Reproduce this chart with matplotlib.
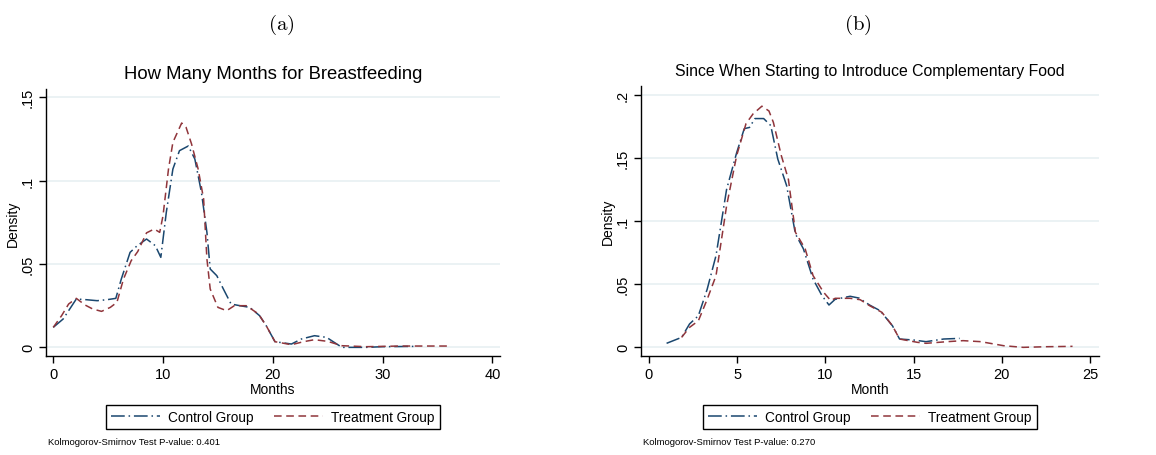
import numpy as np
import matplotlib.pyplot as plt

# kernel density estimates, panel (a): months of breastfeeding
bf_ctrl_x = [0.0, 0.9, 2.1, 3.0, 4.0, 4.9, 5.7, 6.2, 7.0, 7.6, 8.5, 9.3, 9.8, 10.3, 10.9, 11.5,
             12.3, 12.9, 13.5, 14.0, 14.3, 14.9, 15.5, 16.2, 17.0, 17.9, 18.8, 19.4, 20.2, 21.7,
             22.6, 23.8, 24.9, 26.3, 28.5, 30.0, 33.0]
bf_ctrl_y = [0.012, 0.017, 0.029, 0.0286, 0.028, 0.0286, 0.0294, 0.041, 0.057, 0.0607, 0.065, 0.061,
             0.054, 0.081, 0.107, 0.118, 0.1208, 0.113, 0.093, 0.069, 0.047, 0.043, 0.035, 0.026,
             0.025, 0.024, 0.019, 0.013, 0.0034, 0.002, 0.005, 0.007, 0.006, 0.0, 0.0, 0.0004, 0.0006]
bf_trt_x = [0.0, 0.76, 1.4, 2.1, 2.9, 3.6, 4.4, 5.2, 5.8, 6.4, 7.1, 7.7, 8.5, 9.2, 9.7, 10.0, 10.5,
            10.9, 11.7, 12.1, 12.6, 13.2, 13.7, 14.0, 14.3, 15.0, 15.8, 16.5, 17.6, 18.7, 19.4, 20.2,
            21.7, 22.8, 23.8, 25.0, 26.3, 28.5, 31.6, 36.0]
bf_trt_y = [0.012, 0.019, 0.026, 0.0294, 0.0254, 0.023, 0.0216, 0.024, 0.027, 0.041, 0.052, 0.0575,
            0.0687, 0.071, 0.069, 0.079, 0.107, 0.123, 0.1346, 0.132, 0.122, 0.107, 0.089, 0.053,
            0.035, 0.024, 0.022, 0.025, 0.025, 0.020, 0.013, 0.0034, 0.0016, 0.0034, 0.0046, 0.0036,
            0.001, 0.0004, 0.0008, 0.0008]

# panel (b): month complementary food was introduced
cf_ctrl_x = [1.0, 1.85, 2.3, 2.8, 3.3, 3.8, 4.4, 4.97, 5.4, 5.7, 6.0, 6.5, 6.9, 7.3, 7.8, 8.3, 8.75,
             9.3, 9.8, 10.2, 10.55, 11.4, 11.9, 12.5, 13.1, 13.8, 14.2, 15.0, 15.7, 16.7, 17.6]
cf_ctrl_y = [0.0032, 0.0079, 0.0185, 0.025, 0.046, 0.0726, 0.125, 0.154, 0.173, 0.174, 0.181, 0.181,
             0.1755, 0.149, 0.128, 0.0897, 0.078, 0.054, 0.041, 0.0335, 0.038, 0.0404, 0.039, 0.0335,
             0.029, 0.017, 0.0066, 0.0058, 0.0045, 0.0066, 0.0071]
cf_trt_x = [1.85, 2.3, 2.8, 3.3, 3.8, 4.4, 4.97, 5.5, 5.9, 6.4, 6.8, 7.05, 7.5, 7.9, 8.3, 8.85, 9.3,
            9.9, 10.3, 10.55, 11.4, 11.97, 12.5, 13.2, 13.8, 14.2, 15.2, 15.7, 16.9, 17.8, 18.8, 20.1,
            21.2, 22.5, 24.0]
cf_trt_y = [0.0079, 0.0158, 0.021, 0.038, 0.0567, 0.112, 0.1517, 0.177, 0.1847, 0.1908, 0.187, 0.178,
            0.1517, 0.133, 0.091, 0.078, 0.0567, 0.0435, 0.037, 0.0388, 0.0388, 0.0377, 0.033, 0.0277,
            0.017, 0.0066, 0.004, 0.0032, 0.0045, 0.0053, 0.0045, 0.0013, 0.0, 0.0005, 0.0008]

bf_xticks = [0, 10, 20, 30, 40]
bf_yticks = [0, 0.05, 0.1, 0.15]
bf_ylabels = ["0", ".05", ".1", ".15"]
cf_xticks = [0, 5, 10, 15, 20, 25]
cf_yticks = [0, 0.05, 0.1, 0.15, 0.2]
cf_ylabels = ["0", ".05", ".1", ".15", ".2"]

plt.rcParams['font.family'] = ['Liberation Sans', 'DejaVu Sans']
plt.rcParams['mathtext.fontset'] = 'cm'

BLUE = '#1a476f'
RED = '#90353b'
GRID = '#e8f0f2'

fig = plt.figure(figsize=(11.56, 4.56), dpi=100)


def panel(rect, title, title_size, xlabel, xticks, yticks, ylabels, xlim, ylim,
          ctrl, trt, pvalue, legend_center, note_x):
    ax = fig.add_axes(rect)
    for y in yticks:
        ax.axhline(y, color=GRID, lw=1.2, zorder=0)
    ax.plot(ctrl[0], ctrl[1], color=BLUE, lw=1.1, dashes=(9, 2.5, 1, 2.5), label='Control Group')
    ax.plot(trt[0], trt[1], color=RED, lw=1.1, dashes=(5, 3), label='Treatment Group')
    ax.set_xlim(*xlim)
    ax.set_ylim(*ylim)
    ax.set_xticks(xticks)
    ax.set_yticks(yticks)
    ax.set_yticklabels(ylabels, rotation=90, va='center')
    ax.tick_params(direction='out', length=5, width=1, labelsize=10.5, pad=3)
    for s in ('top', 'right'):
        ax.spines[s].set_visible(False)
    for s in ('left', 'bottom'):
        ax.spines[s].set_linewidth(1)
    ax.set_title(title, fontsize=title_size, pad=8)
    ax.set_xlabel(xlabel, fontsize=10, labelpad=1)
    ax.set_ylabel('Density', fontsize=10, labelpad=0.5)
    fig.legend(*ax.get_legend_handles_labels(), loc='center', ncol=2,
               bbox_to_anchor=(legend_center, 1 - 418 / 456), fontsize=9.8,
               frameon=True, fancybox=False, edgecolor='black', framealpha=1,
               handlelength=3.6, columnspacing=1.5, borderpad=0.4, handletextpad=0.6,
               borderaxespad=0)
    fig.text(note_x, 1 - 443 / 456, f'Kolmogorov-Smirnov Test P-value: {pvalue}',
             fontsize=6.8, va='center', ha='left')
    return ax


panel([46 / 1156, 1 - 356.7 / 456, 454 / 1156, 266.7 / 456],
      'How Many Months for Breastfeeding', 13.3, 'Months',
      bf_xticks, bf_yticks, bf_ylabels, (-0.66, 40.7), (-0.005, 0.155),
      (bf_ctrl_x, bf_ctrl_y), (bf_trt_x, bf_trt_y), '0.401', 273 / 1156, 48 / 1156)

panel([641 / 1156, 1 - 356.7 / 456, 458 / 1156, 270 / 456],
      'Since When Starting to Introduce Complementary Food', 11.4, 'Month',
      cf_xticks, cf_yticks, cf_ylabels, (-0.45, 25.5), (-0.0066, 0.207),
      (cf_ctrl_x, cf_ctrl_y), (cf_trt_x, cf_trt_y), '0.270', 870 / 1156, 643 / 1156)

# subfigure captions
fig.text(281 / 1156, 1 - 25 / 456, r'$\mathrm{(a)}$', fontsize=15, ha='center', va='center')
fig.text(858 / 1156, 1 - 25 / 456, r'$\mathrm{(b)}$', fontsize=15, ha='center', va='center')

fig.savefig('out.png', dpi=100)
